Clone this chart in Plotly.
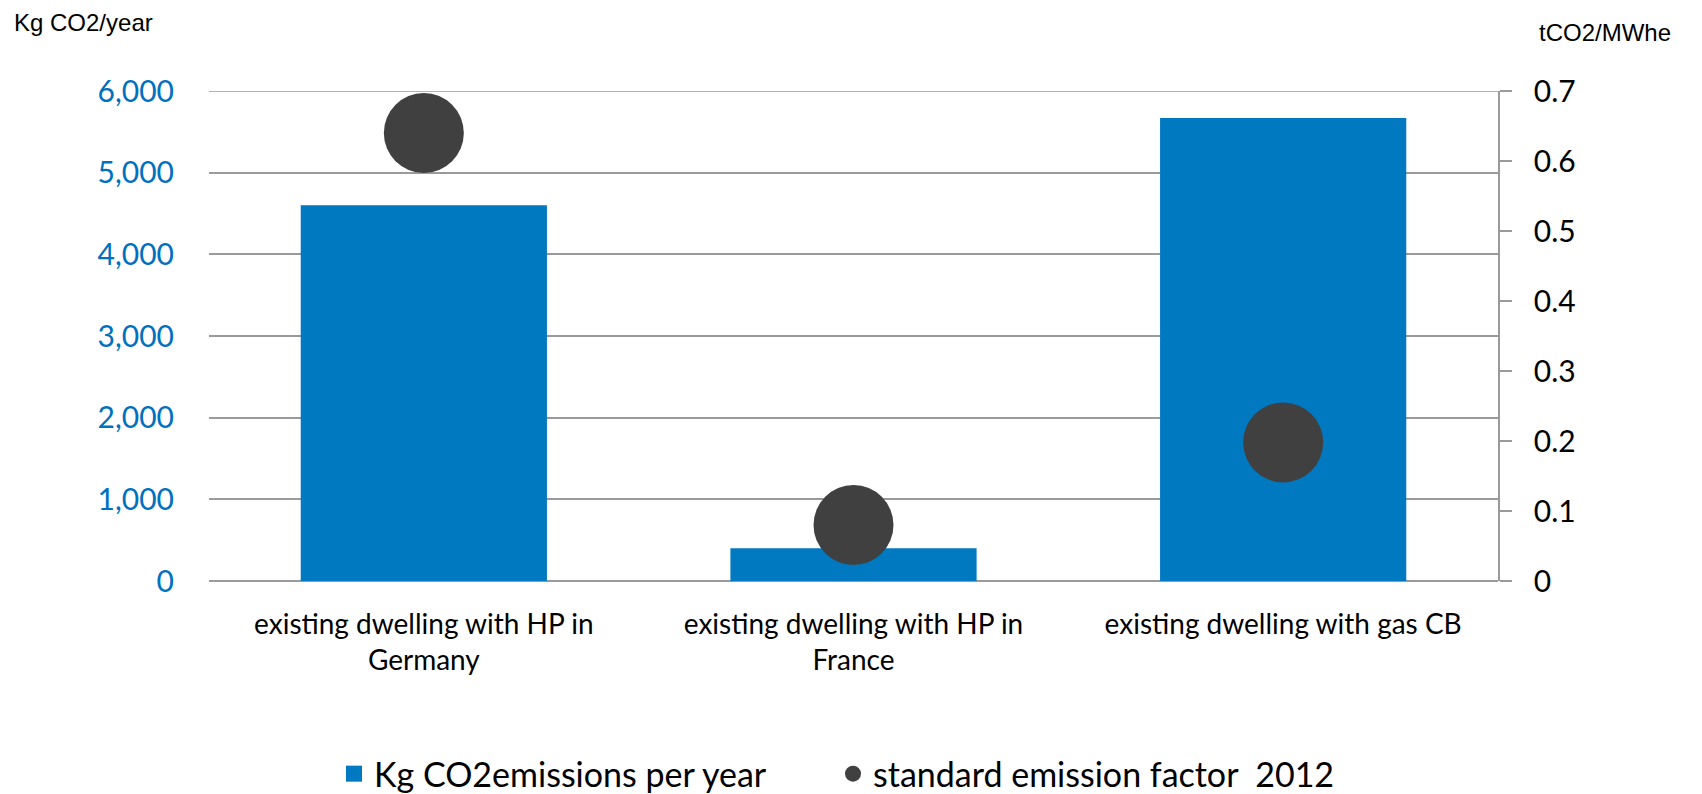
import plotly.graph_objects as go

categories = ["existing dwelling with HP in<br>Germany",
              "existing dwelling with HP in<br>France",
              "existing dwelling with gas CB"]
emissions_kg = [4600, 400, 5670]
emission_factor = [0.64, 0.08, 0.198]

BLUE = "#0079C1"
DARK = "#404040"
GRID = "#9A9A9A"
FONT = "Lato"

fig = go.Figure()
fig.add_trace(go.Bar(
    x=categories, y=emissions_kg, name="Kg CO2emissions per year",
    marker=dict(color=BLUE, line=dict(width=0)), width=0.573, yaxis="y",
    showlegend=False))
fig.add_trace(go.Scatter(
    x=categories, y=emission_factor, name="standard emission factor  2012",
    mode="markers", marker=dict(color=DARK, size=80, symbol="circle"),
    yaxis="y2", showlegend=False))
# legend entries (square for the bars, circle for the markers)
fig.add_trace(go.Scatter(
    x=[None], y=[None], name="Kg CO2emissions per year", mode="markers",
    marker=dict(color=BLUE, size=22, symbol="square"), yaxis="y", legend="legend"))
fig.add_trace(go.Scatter(
    x=[None], y=[None], name="standard emission factor  2012", mode="markers",
    marker=dict(color=DARK, size=20, symbol="circle"), yaxis="y2", legend="legend2"))

leg_common = dict(orientation="h", yanchor="middle", y=-0.394, xanchor="left",
                  font=dict(size=34, family=FONT, color="black"),
                  itemsizing="trace", itemwidth=30, bgcolor="rgba(0,0,0,0)")

fig.update_layout(
    width=1702, height=794,
    margin=dict(l=209, r=204, t=91, b=213, autoexpand=False),
    paper_bgcolor="white", plot_bgcolor="white",
    font=dict(family=FONT, color="black"),
    showlegend=True,
    legend=dict(x=(334 - 209) / 1289, **leg_common),
    legend2=dict(x=(833 - 209) / 1289, **leg_common),
    xaxis=dict(showgrid=False, showline=False, ticks="", automargin=False,
               tickfont=dict(size=28, family=FONT, color="black"),
               ticklabelstandoff=24),
    yaxis=dict(range=[0, 6000], dtick=1000, tickformat=",", showgrid=True,
               gridcolor=GRID, gridwidth=1.5, zeroline=True, zerolinecolor=GRID,
               zerolinewidth=1.5, showline=False, ticks="", automargin=False,
               tickfont=dict(size=30, family=FONT, color="#0070C0"),
               ticklabelstandoff=34),
    yaxis2=dict(range=[0, 0.7], dtick=0.1, overlaying="y", side="right",
                showgrid=False, zeroline=False, showline=True, linecolor=GRID,
                linewidth=1.5, ticks="outside", ticklen=12, tickcolor=GRID,
                tickwidth=1.5, automargin=False,
                tickfont=dict(size=30, family=FONT, color="black"),
                ticklabelstandoff=16),
    shapes=[dict(type="line", xref="paper", yref="y", x0=0, x1=1, y0=6000, y1=6000,
                 line=dict(color=GRID, width=1.5), layer="below")],
    annotations=[
        dict(text="Kg CO2/year", xref="paper", yref="paper", x=-209/1289, y=1 + (91-22)/490,
             xanchor="left", yanchor="middle", showarrow=False,
             font=dict(family="Liberation Sans", size=24, color="black"), xshift=12),
        dict(text="tCO2/MWhe", xref="paper", yref="paper", x=1 + (1537-1498)/1289,
             y=1 + (91-33)/490, xanchor="left", yanchor="middle", showarrow=False,
             font=dict(family="Liberation Sans", size=24, color="black")),
    ],
)

fig.write_html("out.html")
